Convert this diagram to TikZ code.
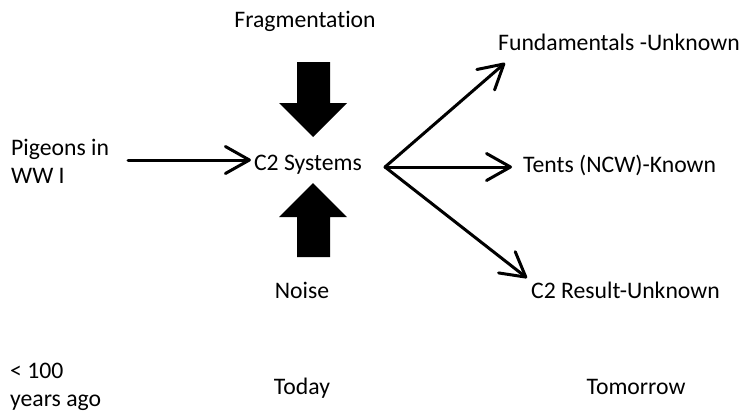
\documentclass[tikz,border=0pt]{standalone}
\usepackage{fontspec}
\setmainfont[Ligatures=NoCommon]{Carlito}
\usetikzlibrary{arrows.meta}
\tikzset{
  lbl/.style={inner sep=0pt, font=\fontsize{23.7}{28}\selectfont},
  conn/.style={line width=3pt, line cap=round,
    -{Straight Barb[length=24pt,width=27pt,line cap=round,line join=round]}},
  blockarrow/.style={fill=black, draw=none}
}
\begin{document}
\begin{tikzpicture}[x=1pt,y=-1pt]
\useasboundingbox (0,0) rectangle (744,410);

% labels
\node[lbl, anchor=base] (frag) at (305,27) {Fragmentation};
\node[lbl, anchor=base] (c2) at (308,170) {C2 Systems};
\node[lbl, anchor=base] (noise) at (302,298) {Noise};
\node[lbl, anchor=base west] (pig1) at (11,155) {Pigeons in};
\node[lbl, anchor=base west] (pig2) at (11,183) {WW I};
\node[lbl, anchor=base west] (ago1) at (10,378) {< 100};
\node[lbl, anchor=base west] (ago2) at (10,406) {years ago};
\node[lbl, anchor=base] (today) at (302,394) {Today};
\node[lbl, anchor=base] (tomorrow) at (636,394) {Tomorrow};
\node[lbl, anchor=base west] (fund) at (498,50) {Fundamentals -Unknown};
\node[lbl, anchor=base west] (tents) at (523,172) {Tents (NCW)-Known};
\node[lbl, anchor=base west] (result) at (531,298) {C2 Result-Unknown};

% block arrows pressing on the system
\fill[blockarrow] (297,62) -- (330,62) -- (330,103) -- (347,103) -- (313,137)
  -- (279,103) -- (297,103) -- cycle;
\fill[blockarrow] (297,257) -- (330,257) -- (330,217) -- (347,217) -- (313,183)
  -- (279,217) -- (297,217) -- cycle;

% connectors
\coordinate (pstart) at (128,160);
\draw[conn, shorten >=3pt] (pstart) -- (pstart -| c2.west);

\coordinate (fan) at (385,167);
\coordinate (tfund) at (505,63);
\coordinate (ttents) at (512,167);
\coordinate (tresult) at (527,278);
\draw[conn] (fan) -- (tfund);
\draw[conn] (fan) -- (ttents);
\draw[conn] (fan) -- (tresult);
\end{tikzpicture}
\end{document}
